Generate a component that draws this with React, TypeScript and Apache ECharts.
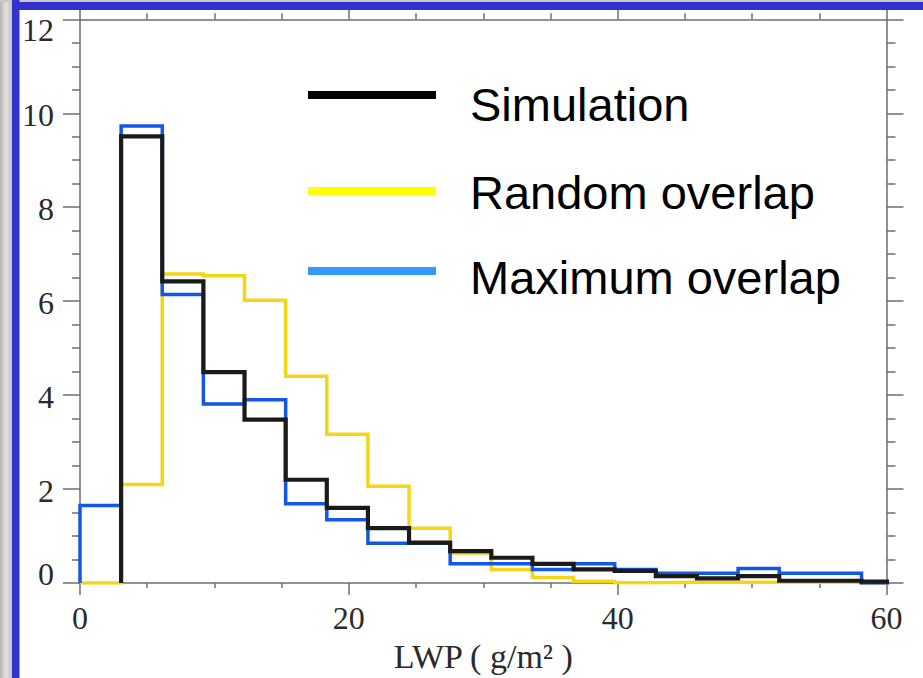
import React, { useEffect, useRef } from "react";
import * as echarts from "echarts";

// Bin edges of the histogram (LWP, g/m²); last bin is clipped by the axis at 60
const BIN_EDGES = [0, 3.06, 6.12, 9.18, 12.24, 15.3, 18.36, 21.42, 24.48, 27.54, 30.6, 33.66, 36.72, 39.78, 42.84, 45.9, 48.96, 52.02, 55.08, 58.14, 61.2];

const SIMULATION = [0, 9.51, 6.42, 4.49, 3.48, 2.2, 1.6, 1.17, 0.86, 0.68, 0.54, 0.41, 0.29, 0.26, 0.15, 0.1, 0.15, 0.05, 0.05, 0.03];
const RANDOM_OVERLAP = [0, 2.1, 6.58, 6.54, 6.02, 4.4, 3.17, 2.06, 1.17, 0.64, 0.29, 0.12, 0.04, 0.01, 0.02, 0.02, 0.02, 0.02, 0.02, 0];
const MAXIMUM_OVERLAP = [1.65, 9.73, 6.14, 3.81, 3.9, 1.69, 1.35, 0.85, 0.85, 0.41, 0.41, 0.29, 0.41, 0.29, 0.21, 0.21, 0.31, 0.21, 0.21, 0];

const SERIES_NAMES = ["Simulation", "Random overlap", "Maximum overlap"];
const X_TICKS = [0, 20, 40, 60];
const Y_TICKS = [0, 2, 4, 6, 8, 10, 12];
const X_NAME = "LWP ( g/m² )";

const SERIF = "'Liberation Serif', 'Times New Roman', Times, serif";
const SANS = "'Liberation Sans', Arial, Helvetica, sans-serif";

function stepPoints(values: number[], fromZero: boolean): number[][] {
  const pts: number[][] = [];
  let started = fromZero;
  if (fromZero) pts.push([BIN_EDGES[0], 0]);
  values.forEach((v, i) => {
    if (!started) {
      if (v === 0) return;
      pts.push([BIN_EDGES[i], 0]);
      started = true;
    }
    pts.push([BIN_EDGES[i], v], [BIN_EDGES[i + 1], v]);
  });
  return pts;
}

export default function App() {
  const ref = useRef<HTMLDivElement>(null);

  useEffect(() => {
    if (!ref.current) return;
    const chart = echarts.init(ref.current, null, { renderer: "svg" });

    const xMin = X_TICKS[0];
    const xMax = X_TICKS[X_TICKS.length - 1];
    const xStep = X_TICKS[1] - X_TICKS[0];
    const yMin = Y_TICKS[0];
    const yMax = Y_TICKS[Y_TICKS.length - 1];
    const yStep = Y_TICKS[1] - Y_TICKS[0];

    const axisLineStyle = { color: "#6e6e6e", width: 1.5 };

    const yLabelFormatter = (v: number) => {
      if (v === yMax) return "{top|" + v + "}";
      if (v === yMin) return "{bot|" + v + "}";
      return "{n|" + v + "}";
    };
    const labelRichBase = { fontFamily: SERIF, fontSize: 32, color: "#2a2a2a" };

    const legendColors = ["#000000", "#ffff00", "#3399ff"];
    const legendLineY = [91, 187, 267];
    const legendTextY = [104, 192, 277];

    const option: any = {
      animation: false,
      backgroundColor: "#ffffff",
      grid: { left: 80, right: 36.5, top: 19.3, bottom: 94, containLabel: false },
      xAxis: [
        {
          type: "value",
          position: "bottom",
          min: xMin,
          max: xMax,
          interval: xStep,
          name: X_NAME,
          nameLocation: "middle",
          nameGap: 54,
          nameTextStyle: { fontFamily: SERIF, fontSize: 34, color: "#2a2a2a" },
          axisLine: { show: true, onZero: false, lineStyle: axisLineStyle },
          axisTick: { show: true, length: 12, lineStyle: axisLineStyle },
          minorTick: { show: true, splitNumber: 4, length: 5, lineStyle: axisLineStyle },
          axisLabel: { fontFamily: SERIF, fontSize: 32, color: "#2a2a2a", margin: 19 },
          splitLine: { show: false },
        },
        {
          type: "value",
          position: "top",
          min: xMin,
          max: xMax,
          interval: xStep,
          axisLine: { show: true, onZero: false, lineStyle: axisLineStyle },
          axisTick: { show: true, length: 10, lineStyle: axisLineStyle },
          minorTick: { show: true, splitNumber: 4, length: 6, lineStyle: axisLineStyle },
          axisLabel: { show: false },
          splitLine: { show: false },
        },
      ],
      yAxis: [
        {
          type: "value",
          position: "left",
          min: yMin,
          max: yMax,
          interval: yStep,
          axisLine: { show: true, onZero: false, lineStyle: axisLineStyle },
          axisTick: { show: true, length: 17, lineStyle: axisLineStyle },
          minorTick: { show: true, splitNumber: 4, length: 8, lineStyle: axisLineStyle },
          axisLabel: {
            margin: 26,
            formatter: yLabelFormatter,
            rich: {
              top: { ...labelRichBase, padding: [21, 0, 0, 0] },
              bot: { ...labelRichBase, padding: [0, 0, 19, 0] },
              n: { ...labelRichBase, padding: [3, 0, 0, 0] },
            },
          },
          splitLine: { show: false },
        },
        {
          type: "value",
          position: "right",
          min: yMin,
          max: yMax,
          interval: yStep,
          axisLine: { show: true, onZero: false, lineStyle: axisLineStyle },
          axisTick: { show: true, length: 17, lineStyle: axisLineStyle },
          minorTick: { show: true, splitNumber: 4, length: 9, lineStyle: axisLineStyle },
          axisLabel: { show: false },
          splitLine: { show: false },
        },
      ],
      series: [
        {
          name: SERIES_NAMES[1],
          type: "line",
          data: stepPoints(RANDOM_OVERLAP, true),
          showSymbol: false,
          symbol: "none",
          clip: true,
          z: 2,
          lineStyle: { color: "#f5d614", width: 3.5, join: "miter" },
        },
        {
          name: SERIES_NAMES[2],
          type: "line",
          data: stepPoints(MAXIMUM_OVERLAP, true),
          showSymbol: false,
          symbol: "none",
          clip: true,
          z: 3,
          lineStyle: { color: "#1257e8", width: 3.5, join: "miter" },
        },
        {
          name: SERIES_NAMES[0],
          type: "line",
          data: stepPoints(SIMULATION, false),
          showSymbol: false,
          symbol: "none",
          clip: true,
          z: 4,
          lineStyle: { color: "#1a1a1a", width: 4.2, join: "miter" },
        },
      ],
      graphic: [
        // slide frame: marble strip and blue bars
        {
          type: "rect",
          z: 100,
          silent: true,
          shape: { x: 0, y: 0, width: 12, height: 678 },
          style: {
            fill: new echarts.graphic.LinearGradient(0, 0, 1, 0, [
              { offset: 0, color: "#b4b4b4" },
              { offset: 0.5, color: "#e4e4e4" },
              { offset: 1, color: "#c2c2c2" },
            ]),
          },
        },
        { type: "rect", z: 100, silent: true, shape: { x: 0, y: 0, width: 923, height: 2 }, style: { fill: "#c8c8c8" } },
        { type: "rect", z: 101, silent: true, shape: { x: 12, y: 2, width: 911, height: 8 }, style: { fill: "#3333cc" } },
        { type: "rect", z: 101, silent: true, shape: { x: 12, y: 0, width: 7.5, height: 678 }, style: { fill: "#3333cc" } },
        // legend
        ...SERIES_NAMES.flatMap((name, i) => [
          {
            type: "rect",
            z: 50,
            shape: { x: 308, y: legendLineY[i], width: 128, height: 8 },
            style: { fill: legendColors[i] },
          },
          {
            type: "text",
            z: 50,
            x: 470,
            y: legendTextY[i],
            style: {
              text: name,
              font: "47px " + SANS,
              fill: "#000",
              verticalAlign: "middle",
              align: "left",
            },
          },
        ]),
      ],
    };

    chart.setOption(option);
    return () => chart.dispose();
  }, []);

  return (
    <div
      ref={ref}
      style={{ position: "fixed", left: 0, top: 0, width: 923, height: 678, background: "#ffffff" }}
    />
  );
}
